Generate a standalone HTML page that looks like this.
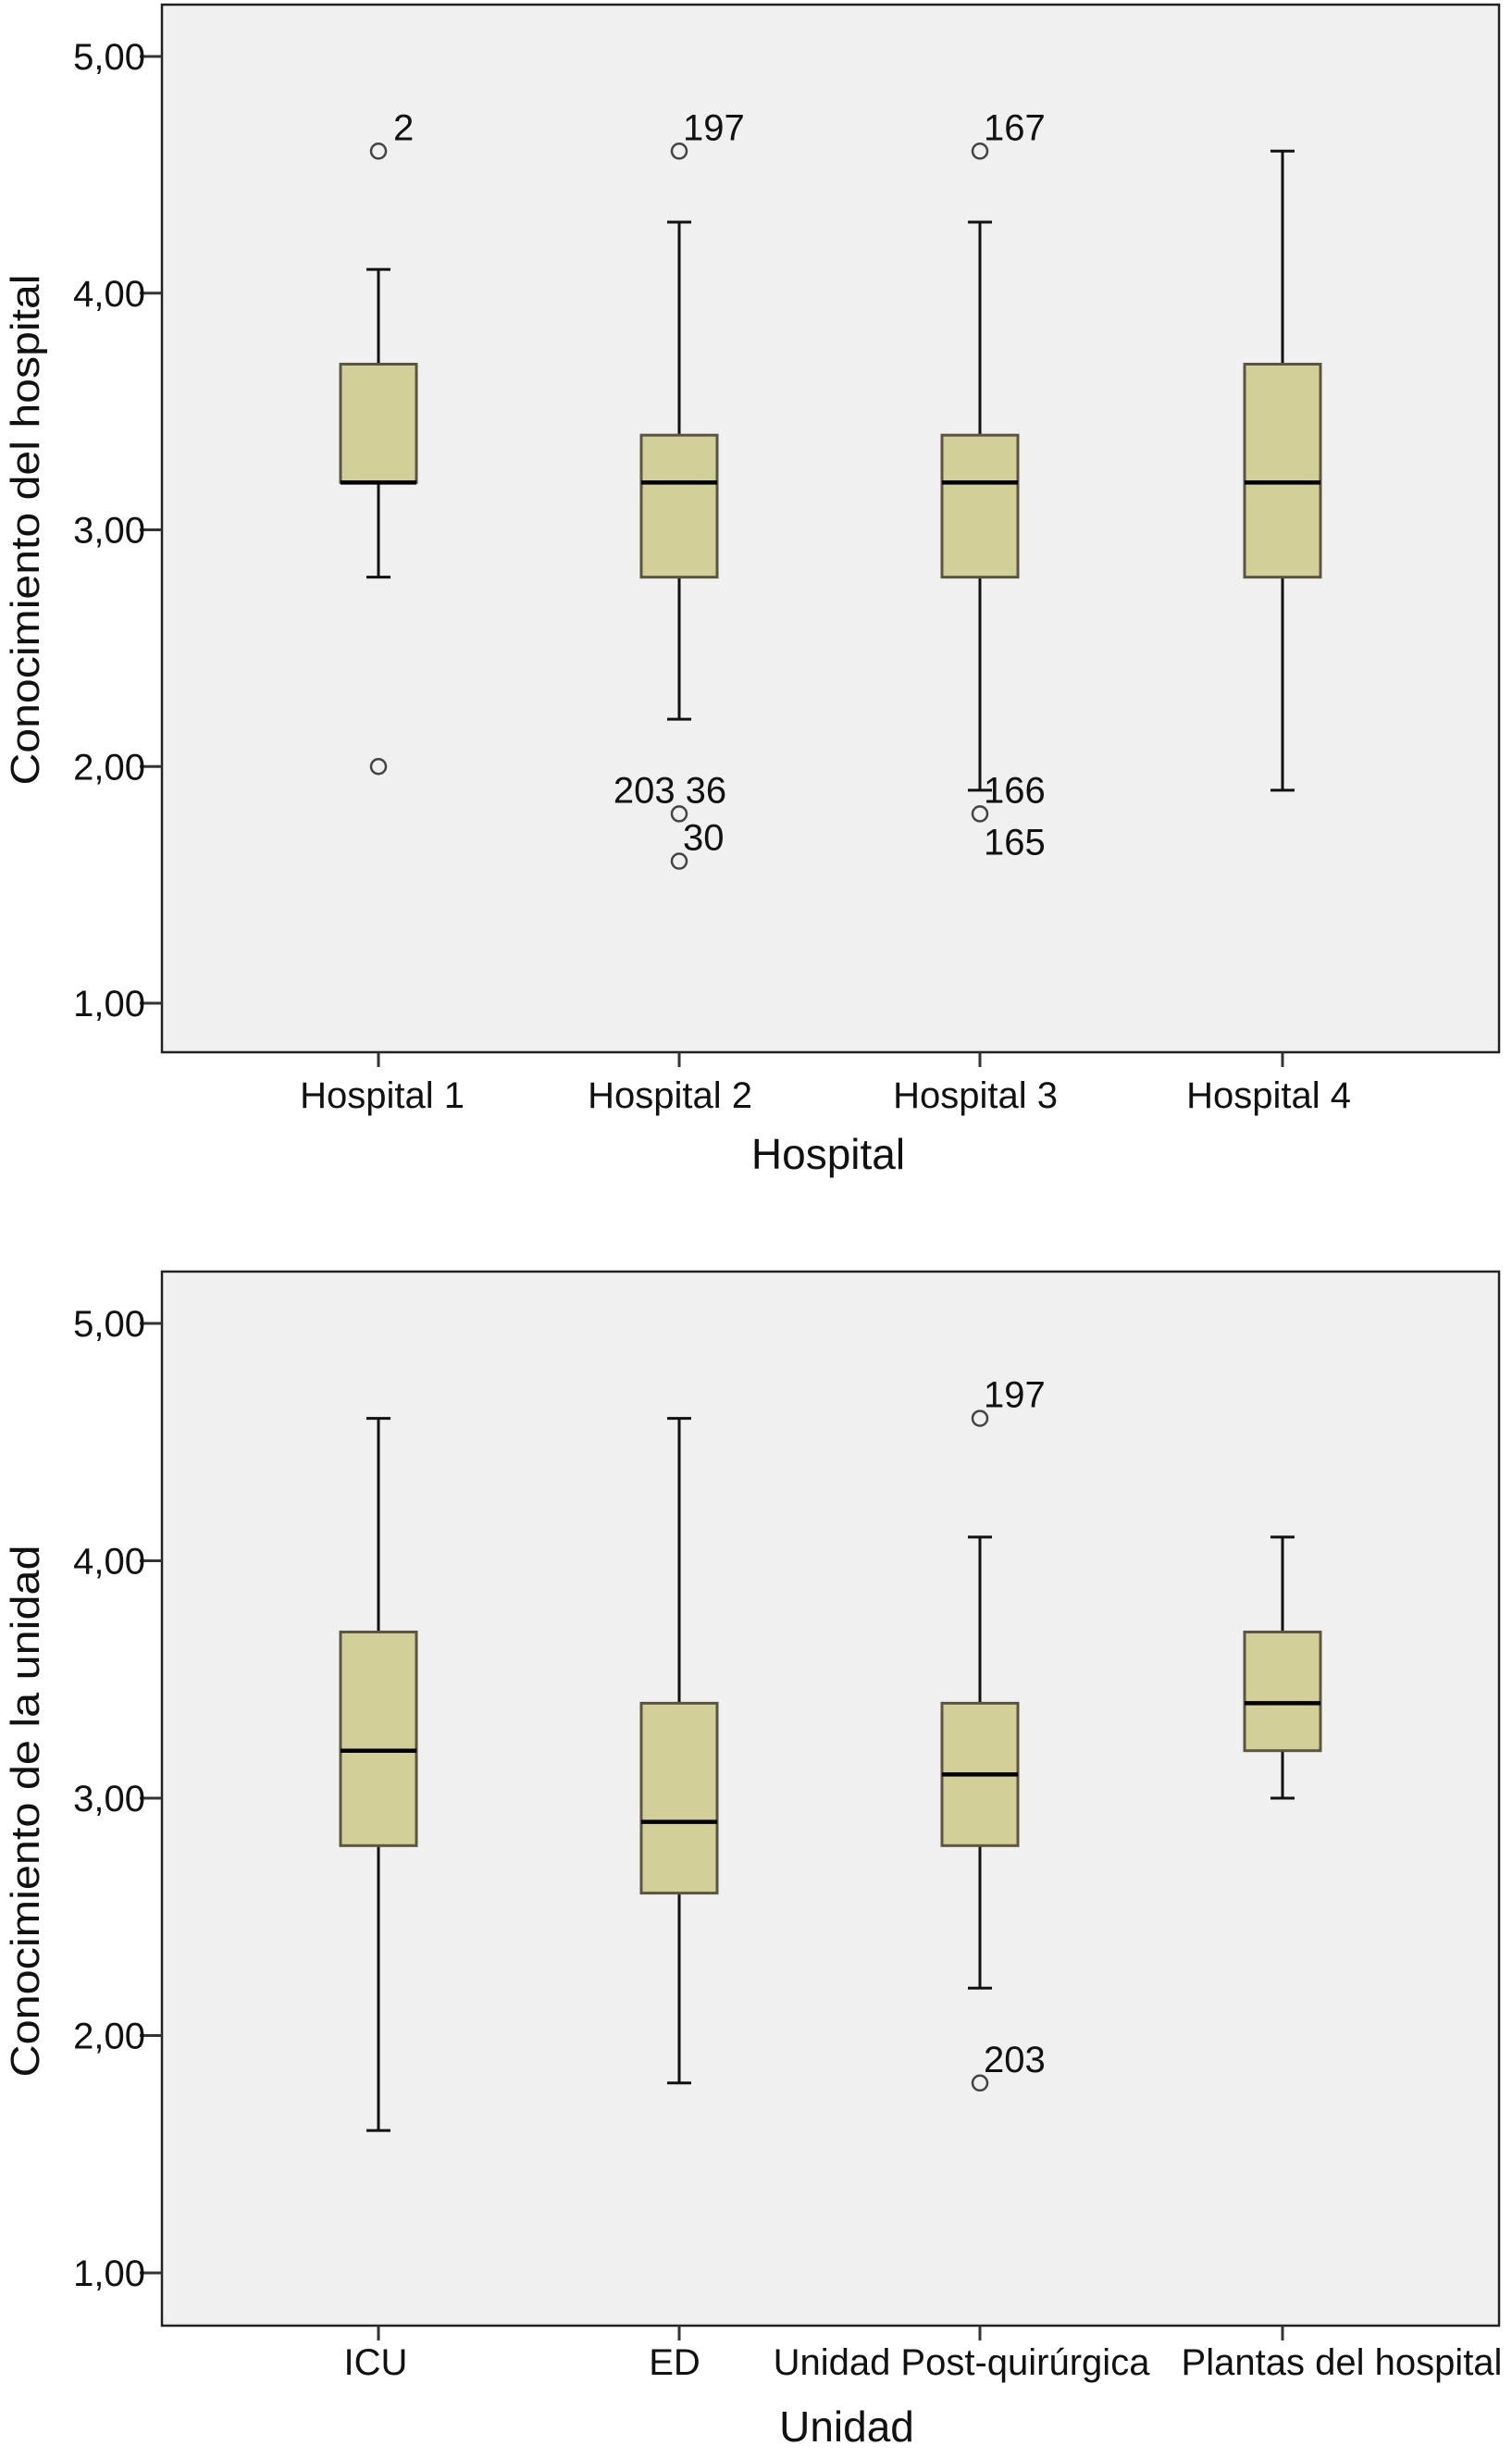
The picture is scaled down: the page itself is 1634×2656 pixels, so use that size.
<!DOCTYPE html>
<html><head><meta charset="utf-8"><style>
html,body{margin:0;padding:0;background:#fff;}
svg{display:block;font-family:"Liberation Sans",Arial,sans-serif;}
</style></head><body>
<svg id="chart" width="1634" height="2656" viewBox="0 0 1634 2656" xmlns="http://www.w3.org/2000/svg"></svg>
<script>
// ---- data: top panel ----
const hospCategories = ["Hospital 1","Hospital 2","Hospital 3","Hospital 4"];
const hospWhiskLow  = [2.8, 2.2, 1.9, 1.9];
const hospQ1        = [3.2, 2.8, 2.8, 2.8];
const hospMedian    = [3.2, 3.2, 3.2, 3.2];
const hospQ3        = [3.7, 3.4, 3.4, 3.7];
const hospWhiskHigh = [4.1, 4.3, 4.3, 4.6];
const hospOutlierCat = [0, 0, 1, 1, 1, 2, 2];
const hospOutlierVal = [4.6, 2.0, 4.6, 1.8, 1.6, 4.6, 1.8];
const hospOutlierLbl = ["2", "", "197", "203 36", "30", "167", "166"];
const hospOutlierLblPos = ["ur", "", "ur", "above", "ur", "ur", "ur"];
const hospExtraLbl = [{cat:2, val:1.8, text:"165"}];
// ---- data: bottom panel ----
const unitCategories = ["ICU","ED","Unidad Post-quirúrgica","Plantas del hospital"];
const unitWhiskLow  = [1.6, 1.8, 2.2, 3.0];
const unitQ1        = [2.8, 2.6, 2.8, 3.2];
const unitMedian    = [3.2, 2.9, 3.1, 3.4];
const unitQ3        = [3.7, 3.4, 3.4, 3.7];
const unitWhiskHigh = [4.6, 4.6, 4.1, 4.1];
const unitOutlierCat = [2, 2];
const unitOutlierVal = [4.6, 1.8];
const unitOutlierLbl = ["197", "203"];
const unitOutlierLblPos = ["ur", "ur"];
const yTicks = [1, 2, 3, 4, 5];
const yTickLabels = ["1,00","2,00","3,00","4,00","5,00"];

const NS = "http://www.w3.org/2000/svg";
const svg = document.getElementById("chart");
function mk(tag, attrs, parent){
  const e = document.createElementNS(NS, tag);
  for (const k in attrs) e.setAttribute(k, attrs[k]);
  (parent||svg).appendChild(e);
  return e;
}
const catX = [409, 734, 1059, 1386];

function panel(cfg){
  const g = mk("g", {});
  
  
  const L=175, R=1620, T=cfg.top, B=cfg.bottom;
  const y = v => cfg.y1 + (cfg.y5 - cfg.y1) * (v - 1) / 4;
  const bg = mk("rect", {x:L, y:T, width:R-L, height:B-T, fill:"#f0f0f0", stroke:"#222", "stroke-width":2.5}, g);
  
  
  yTicks.forEach((t,i)=>{
    const tk = mk("line", {x1:L-24, x2:L, y1:y(t), y2:y(t), stroke:"#333", "stroke-width":3}, g);
    
    
    const tx = mk("text", {x:L-18, y:y(t)+14, "text-anchor":"end", "font-size":40, fill:"#111"}, g);
    tx.textContent = yTickLabels[i];
    
    
  });
  const hw = 41, cap = 13;
  cfg.cats.forEach((c,i)=>{
    const x = catX[i];
    const bx = mk("g", {}, g);
    
    
    mk("line", {x1:x, x2:x, y1:y(cfg.wh[i]), y2:y(cfg.q3[i]), stroke:"#111", "stroke-width":3}, bx);
    mk("line", {x1:x, x2:x, y1:y(cfg.q1[i]), y2:y(cfg.wl[i]), stroke:"#111", "stroke-width":3}, bx);
    mk("line", {x1:x-cap, x2:x+cap, y1:y(cfg.wh[i]), y2:y(cfg.wh[i]), stroke:"#111", "stroke-width":3}, bx);
    mk("line", {x1:x-cap, x2:x+cap, y1:y(cfg.wl[i]), y2:y(cfg.wl[i]), stroke:"#111", "stroke-width":3}, bx);
    mk("rect", {x:x-hw, y:y(cfg.q3[i]), width:2*hw, height:y(cfg.q1[i])-y(cfg.q3[i]), fill:"#d3cf98", stroke:"#5a5640", "stroke-width":3}, bx);
    mk("line", {x1:x-hw, x2:x+hw, y1:y(cfg.md[i]), y2:y(cfg.md[i]), stroke:"#000", "stroke-width":4.5}, bx);
    mk("line", {x1:x, x2:x, y1:B, y2:B+16, stroke:"#333", "stroke-width":3}, g);
    const lbl = mk("text", {x:x + (cfg.lblShift ? cfg.lblShift[i] : 0), y:cfg.catLblY, "text-anchor":"middle", "font-size":40, fill:"#111"}, g);
    lbl.textContent = c;
    
    
  });
  cfg.oc.forEach((ci,k)=>{
    const x = catX[ci], yy = y(cfg.ov[k]);
    const o = mk("circle", {cx:x, cy:yy, r:8, fill:"none", stroke:"#444", "stroke-width":2.5}, g);
    
    
    if (cfg.ol[k]) {
      let a = {x:x + (cfg.ol[k].length===1 ? 16 : 4), y:yy-12, "font-size":40, fill:"#111"};
      if (cfg.op[k]==="above") a = {x:x-10, y:yy-12, "font-size":40, fill:"#111", "text-anchor":"middle"};
      const t = mk("text", a, g);
      t.textContent = cfg.ol[k];
      
      
    }
  });
  (cfg.extra||[]).forEach(e=>{
    const t = mk("text", {x:catX[e.cat]+4, y:y(e.val)+44, "font-size":40, fill:"#111"}, g);
    t.textContent = e.text;
    
    
  });
  const xt = mk("text", {x:cfg.xTitleX, y:cfg.xTitleY, "text-anchor":"middle", "font-size":46, fill:"#111"}, g);
  xt.textContent = cfg.xTitle;
  
  
  const yc = (cfg.y5+cfg.y1)/2 + cfg.yTitleOff;
  const yt = mk("text", {x:0, y:0, transform:`translate(42,${yc}) rotate(-90)`, "text-anchor":"middle", "font-size":44, fill:"#111", textLength:cfg.yTitleLen, lengthAdjust:"spacingAndGlyphs"}, g);
  yt.textContent = cfg.yTitle;
  
  
}

panel({name:"hospital-panel", top:5, bottom:1137, y5:61, y1:1084,
  cats:hospCategories, wl:hospWhiskLow, q1:hospQ1, md:hospMedian, q3:hospQ3, wh:hospWhiskHigh,
  oc:hospOutlierCat, ov:hospOutlierVal, ol:hospOutlierLbl, op:hospOutlierLblPos, extra:hospExtraLbl,
  lblShift:[4, -10, -5, -15],
  catLblY:1197, xTitle:"Hospital", xTitleX:895, xTitleY:1263,
  yTitle:"Conocimiento del hospital", yTitleLen:552, yTitleOff:0});
panel({name:"unidad-panel", top:1374, bottom:2513, y5:1430, y1:2456,
  cats:unitCategories, wl:unitWhiskLow, q1:unitQ1, md:unitMedian, q3:unitQ3, wh:unitWhiskHigh,
  oc:unitOutlierCat, ov:unitOutlierVal, ol:unitOutlierLbl, op:unitOutlierLblPos,
  lblShift:[-3, -5, -20, 64],
  catLblY:2566, xTitle:"Unidad", xTitleX:915, xTitleY:2638,
  yTitle:"Conocimiento de la unidad", yTitleLen:575, yTitleOff:14});
</script>
</body></html>
